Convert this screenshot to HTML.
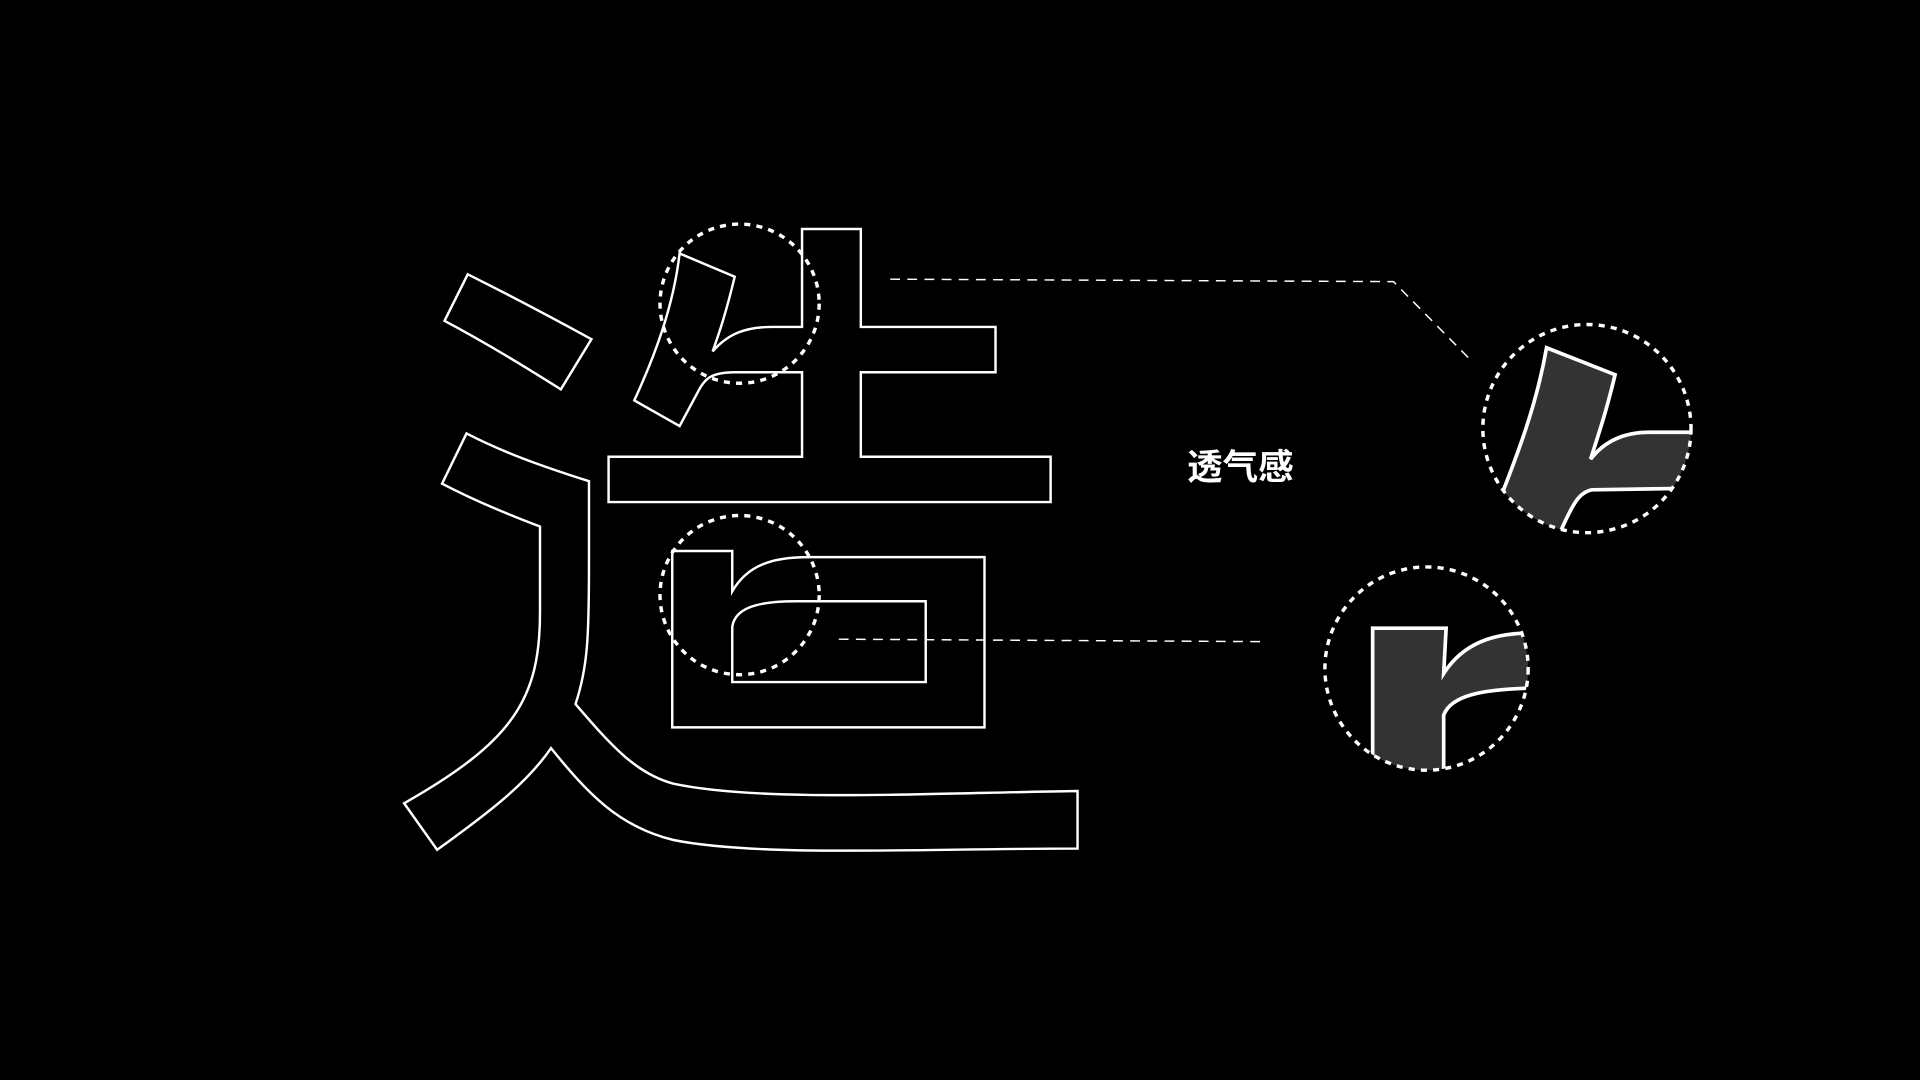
<!DOCTYPE html>
<html><head><meta charset="utf-8"><style>
html,body{margin:0;padding:0;background:#000;width:1920px;height:1080px;overflow:hidden}
svg{display:block}
</style></head><body>
<svg width="1920" height="1080" viewBox="0 0 1568 882" preserveAspectRatio="none">
<defs>
<clipPath id="c1"><circle cx="1296" cy="350" r="85"/></clipPath>
<clipPath id="c2"><circle cx="1165" cy="546" r="83"/></clipPath>
</defs>
<g fill="none" stroke="#fff" stroke-width="2" stroke-linejoin="miter">
<path d="M382,224 C420,243 450,259 483,277 L458,318 C425,297 395,279 363,262 Z"/>
<path d="M381,354 L361,395 C390,410 415,420 441,430 L441,500 C441,570 420,605 330,656 L357,694 C400,663 430,640 450,611 C480,648 505,675 550,686 C620,700 750,693 880,693 L880,646 C750,648 620,655 550,640 C520,632 500,610 470,575 C480,545 481,520 481,460 L481,393 C440,380 410,369 381,354 Z"/>
<path d="M555,207 L600,226 C593,255 588,270 582,287 C595,272 610,267 630,267 L655,267 L655,187 L703,187 L703,267 L813,267 L813,304 L703,304 L703,373 L858,373 L858,410 L497,410 L497,373 L655,373 L655,304 L600,304 C580,304 575,310 570,320 L555,348 L518,327 C535,290 550,250 555,207 Z"/>
<path d="M549,450 L598,450 L598,483 C610,462 630,455 660,455 L804,455 L804,594 L549,594 Z"/>
<path d="M598,557 L756,557 L756,491 L650,491 C615,491 600,498 598,512 Z"/>
</g>
<g fill="none" stroke="#fff" stroke-width="2.8" stroke-dasharray="5 5">
<circle cx="604" cy="248" r="65"/>
<circle cx="604" cy="486" r="65"/>
</g>
<g fill="none" stroke="#fff" stroke-width="1.2" stroke-dasharray="8 6">
<polyline points="727,228 1138,230 1202,295"/>
<line x1="685" y1="522" x2="1030" y2="524"/>
</g>
<text x="1013" y="391" fill="#fff" font-size="29" font-weight="bold" text-anchor="middle" font-family="'Liberation Sans','Noto Sans CJK SC',sans-serif">透气感</text>
<g clip-path="url(#c1)">
<path d="M1263,284 L1319,306 C1312,335 1307,350 1299,375 C1312,358 1330,353 1347,353 L1390,353 L1390,399 L1365,399 L1300,400 C1290,402 1285,410 1274,435 L1220,420 C1240,370 1255,330 1263,284 Z" fill="#333" stroke="#fff" stroke-width="3"/>
</g>
<g clip-path="url(#c2)">
<path d="M1121,513 L1181,513 L1179,550 C1195,525 1220,517 1250,517 L1250,562 C1210,563 1185,568 1179,584 L1179,640 L1121,640 Z" fill="#333" stroke="#fff" stroke-width="3"/>
</g>
<g fill="none" stroke="#fff" stroke-width="2.8" stroke-dasharray="5 5">
<circle cx="1296" cy="350" r="85"/>
<circle cx="1165" cy="546" r="83"/>
</g>
</svg>
</body></html>
